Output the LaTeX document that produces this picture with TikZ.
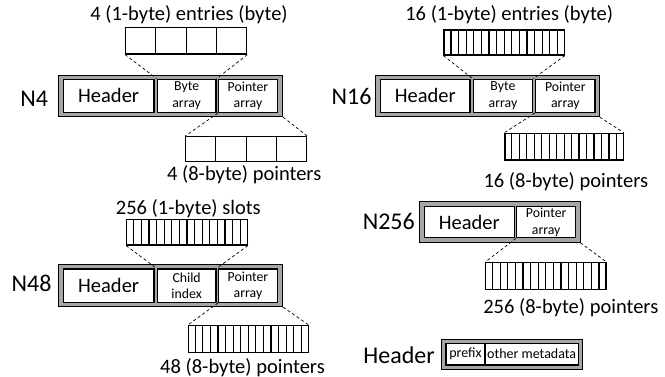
\documentclass[tikz,border=0pt]{standalone}
\usepackage{fontspec}
\setmainfont{Carlito}
\usetikzlibrary{calc}
\definecolor{boxgray}{RGB}{166,166,166}
\tikzset{
  sz/.style 2 args={minimum width=#1pt, minimum height=#2pt},
  outerbox/.style={draw=black, line width=0.9pt, fill=boxgray, inner sep=0pt},
  innerbox/.style={draw=black, line width=1.4pt, fill=white, inner sep=0pt, align=center},
  arr/.style={draw=black, line width=1.2pt, fill=white, inner sep=0pt},
  arrline/.style={draw=black, line width=1.2pt},
  conn/.style={draw=black, line width=0.7pt, dash pattern=on 3pt off 2.5pt},
  big/.style={font=\fontsize{20.5}{24}\selectfont},
  captext/.style={font=\fontsize{20.5}{24}\selectfont, anchor=base, inner sep=0pt},
  lab/.style={font=\fontsize{24}{28}\selectfont, anchor=base east, inner sep=0pt},
  small/.style={font=\fontsize{13.8}{16.5}\selectfont},
  tiny/.style={font=\fontsize{14}{16}\selectfont},
}
\begin{document}
\begin{tikzpicture}[x=1pt,y=-1pt]
\useasboundingbox (0,0) rectangle (665,377);

% ================= N4 =================
\node[lab] (l4) at (48.3,107) {N4};
\node[outerbox, sz={224}{41.7}] (n4) at (170.7,95.85) {};
\node[innerbox, big, sz={90.7}{33}] (h4) at (108.65,95.8) {Header};
\node[innerbox, small, sz={58.7}{33}] (b4) at (186.65,95.8) {Byte\\array};
\node[innerbox, small, sz={58.6}{33}] (p4) at (248,95.8) {Pointer\\array};
\node[arr, sz={121}{26.7}] (t4) at (186.2,40.65) {};
\foreach \i in {1,...,3}
  \draw[arrline] ($(t4.north west)!\i/4!(t4.north east)$) -- ($(t4.south west)!\i/4!(t4.south east)$);
\node[arr, sz={121}{25}] (q4) at (246.2,149.2) {};
\foreach \i in {1,...,3}
  \draw[arrline] ($(q4.north west)!\i/4!(q4.north east)$) -- ($(q4.south west)!\i/4!(q4.south east)$);
\node[captext] (c4t) at (189,21) {4 (1-byte) entries (byte)};
\node[captext] (c4b) at (244.2,181) {4 (8-byte) pointers};
\draw[conn] (t4.south west) -- (b4.north west);
\draw[conn] (t4.south east) -- (b4.north east);
\draw[conn] (p4.south west) -- (q4.north west);
\draw[conn] (n4.south east) -- (q4.north east);

% ================= N16 =================
\node[lab] (l16) at (371.7,105) {N16};
\node[outerbox, sz={223.6}{41.7}] (n16) at (487.5,95.85) {};
\node[innerbox, big, sz={89.3}{33}] (h16) at (425.35,95.8) {Header};
\node[innerbox, small, sz={59.4}{33}] (b16) at (503,95.8) {Byte\\array};
\node[innerbox, small, sz={59.3}{33}] (p16) at (565.35,95.8) {Pointer\\array};
\node[arr, sz={120.3}{25}] (t16) at (504.15,42.5) {};
\foreach \i in {1,...,15}
  \draw[arrline] ($(t16.north west)!\i/16!(t16.north east)$) -- ($(t16.south west)!\i/16!(t16.south east)$);
\node[arr, sz={118.3}{26.7}] (q16) at (564.15,146.65) {};
\foreach \i in {1,...,15}
  \draw[arrline] ($(q16.north west)!\i/16!(q16.north east)$) -- ($(q16.south west)!\i/16!(q16.south east)$);
\node[captext] (c16t) at (509.2,21) {16 (1-byte) entries (byte)};
\node[captext] (c16b) at (565.8,188) {16 (8-byte) pointers};
\draw[conn] (t16.south west) -- (b16.north west);
\draw[conn] (t16.south east) -- (b16.north east);
\draw[conn] (p16.south west) -- (q16.north west);
\draw[conn] (n16.south east) -- (q16.north east);

% ================= N48 =================
\node[lab] (l48) at (51.7,292) {N48};
\node[outerbox, sz={224}{42.7}] (n48) at (170.7,285.35) {};
\node[innerbox, big, sz={90.7}{33.3}] (h48) at (108.65,285.65) {Header};
\node[innerbox, small, sz={58.7}{33.3}] (b48) at (186.65,285.65) {Child\\index};
\node[innerbox, small, sz={58.6}{33.3}] (p48) at (248,285.65) {Pointer\\array};
\node[arr, sz={120.6}{25.7}] (t48) at (187,232.15) {};
\foreach \i in {1,...,15}
  \draw[arrline] ($(t48.north west)!\i/16!(t48.north east)$) -- ($(t48.south west)!\i/16!(t48.south east)$);
\node[arr, sz={120}{27}] (q48) at (248.3,339.2) {};
\foreach \i in {1,...,15}
  \draw[arrline] ($(q48.north west)!\i/16!(q48.north east)$) -- ($(q48.south west)!\i/16!(q48.south east)$);
\node[captext] (c48t) at (188.3,215) {256 (1-byte) slots};
\node[captext] (c48b) at (242.5,373) {48 (8-byte) pointers};
\draw[conn] (t48.south west) -- (b48.north west);
\draw[conn] (t48.south east) -- (b48.north east);
\draw[conn] (p48.south west) -- (q48.north west);
\draw[conn] (n48.south east) -- (q48.north east);

% ================= N256 =================
\node[lab] (l256) at (415,230) {N256};
\node[outerbox, sz={160.7}{40.6}] (n256) at (499.65,222) {};
\node[innerbox, big, sz={90}{31}] (h256) at (469.3,222.2) {Header};
\node[innerbox, small, sz={59}{31}] (p256) at (546.2,222.2) {Pointer\\array};
\node[arr, sz={120.3}{26.6}] (q256) at (545.85,276) {};
\foreach \i in {1,...,15}
  \draw[arrline] ($(q256.north west)!\i/16!(q256.north east)$) -- ($(q256.south west)!\i/16!(q256.south east)$);
\node[captext] (c256b) at (570.8,313) {256 (8-byte) pointers};
\draw[conn] (p256.south west) -- (q256.north west);
\draw[conn] (n256.south east) -- (q256.north east);

% ================= Header legend =================
\node[lab] (lh) at (435,363) {Header};
\node[outerbox, sz={141}{29.7}] (hl) at (512.2,354.15) {};
\node[innerbox, tiny, sz={39}{21.7}] (pre) at (465.5,354.15) {prefix};
\node[innerbox, tiny, sz={93.3}{21.7}] (meta) at (531.65,354.15) {other metadata};
\end{tikzpicture}
\end{document}
